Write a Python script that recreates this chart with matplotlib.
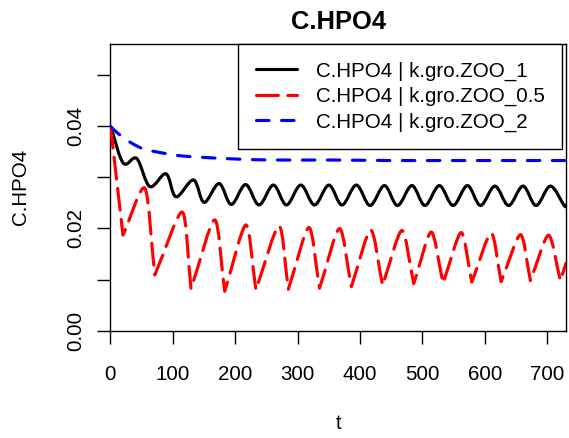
import numpy as np
import matplotlib
matplotlib.use("Agg")
import matplotlib.pyplot as plt
from matplotlib.path import Path
from matplotlib.patches import PathPatch
from matplotlib.lines import Line2D

# ---- data ----
black_t = [0, 20.5, 42, 63, 89, 105, 133, 150, 174, 193.5, 216.5, 238, 261, 282, 305,
           327, 350, 371, 394, 416, 439, 460, 483, 504, 527, 549, 572, 593, 616, 638,
           661, 682, 705, 727, 730]
black_v = [0.0400, 0.0328, 0.0337, 0.0282, 0.0307, 0.0262, 0.0295, 0.0251, 0.0288, 0.0247,
           0.0286, 0.0246, 0.0285, 0.0246, 0.0285, 0.0246, 0.0285, 0.0246, 0.0285, 0.0245,
           0.0284, 0.0245, 0.0284, 0.0245, 0.0284, 0.0245, 0.0284, 0.0245, 0.0283, 0.0245,
           0.0283, 0.0245, 0.0283, 0.0245, 0.0246]

red_t = [0, 20, 55, 71, 115, 129, 167, 183, 217, 233, 270, 285, 318, 335, 367, 386,
         417, 436, 467, 486, 514, 533, 562, 579, 610, 626, 657, 673, 702, 721, 730]
red_v = [0.0400, 0.0187, 0.0279, 0.0109, 0.0232, 0.0082, 0.0217, 0.0077, 0.0207, 0.0080,
         0.0205, 0.0081, 0.0202, 0.0083, 0.0200, 0.0086, 0.0197, 0.0089, 0.0196, 0.0092,
         0.0193, 0.0093, 0.0192, 0.0095, 0.0191, 0.0096, 0.0188, 0.0098, 0.0187, 0.0098,
         0.0132]
red_is_trough = [False] + [i % 2 == 1 for i in range(1, len(red_t) - 1)] + [True]

blue_t = [0, 12, 34, 55, 87, 114, 151, 199, 260, 350, 450, 550, 650, 730]
blue_v = [0.0400, 0.0386, 0.0367, 0.0355, 0.0347, 0.0342, 0.0339, 0.0336, 0.0334,
          0.0334, 0.0333, 0.0333, 0.0333, 0.0333]

labels = ["C.HPO4 | k.gro.ZOO_1", "C.HPO4 | k.gro.ZOO_0.5", "C.HPO4 | k.gro.ZOO_2"]
colors = ["black", "red", "blue"]
x_ticks = [0, 100, 200, 300, 400, 500, 600, 700]
y_ticks = [0.00, 0.01, 0.02, 0.03, 0.04, 0.05]
y_ticklabels = ["0.00", "", "0.02", "", "0.04", ""]

plt.rcParams['font.family'] = ['Liberation Sans', 'DejaVu Sans']

W, H = 569, 438
fig = plt.figure(figsize=(W / 100, H / 100), dpi=100)
L, R, T, B = 110.5, 566.0, 44.0, 330.7
ax = fig.add_axes([L / W, 1 - B / H, (R - L) / W, (B - T) / H])


def smooth_path(t, v, corners=None, s=1 / 6):
    p = np.column_stack([np.asarray(t, float), np.asarray(v, float)])
    n = len(p)
    if corners is None:
        corners = [False] * n
    corners = list(corners)
    corners[0] = True
    corners[-1] = True
    verts = [p[0]]
    codes = [Path.MOVETO]
    for i in range(n - 1):
        p1, p2 = p[i], p[i + 1]
        if corners[i]:
            c1 = p1 + (p2 - p1) / 3
        else:
            c1 = p1 + (p2 - p[i - 1]) * s
        if corners[i + 1]:
            c2 = p2 - (p2 - p1) / 3
        else:
            c2 = p2 - (p[i + 2] - p1) * s
        verts += [c1, c2, p2]
        codes += [Path.CURVE4] * 3
    return Path(np.array(verts), codes)


lw = 2.25
styles = [
    dict(color="black", linestyle="-"),
    dict(color="red", linestyle=(0, (7, 3))),
    dict(color="blue", linestyle=(0, (4, 4))),
]
paths = [
    smooth_path(black_t, black_v),
    smooth_path(red_t, red_v, red_is_trough, s=1 / 8),
    smooth_path(blue_t, blue_v),
]
for pth, st in zip(paths, styles):
    patch = PathPatch(pth, fill=False, edgecolor=st["color"], linewidth=lw,
                      linestyle=st["linestyle"], capstyle="round", joinstyle="round",
                      zorder=3)
    ax.add_patch(patch)

ax.set_xlim(0, 730)
ax.set_ylim(0, 0.0561)
ax.set_xticks(x_ticks)
ax.set_xticklabels([str(x) for x in x_ticks])
ax.set_yticks(y_ticks)
ax.set_yticklabels(y_ticklabels, rotation=90, va="center")
ax.tick_params(axis="both", direction="out", length=9.4, width=1.0,
               labelsize=14.8, colors="black")
ax.tick_params(axis="x", pad=15.5)
ax.tick_params(axis="y", pad=9.0)
for sp in ax.spines.values():
    sp.set_linewidth(1.0)
    sp.set_color("black")

handles = [Line2D([], [], color=st["color"], linestyle=st["linestyle"], linewidth=lw,
                  dash_capstyle="round", solid_capstyle="round") for st in styles]
leg = ax.legend(handles, labels, loc="upper right",
                bbox_to_anchor=((562 - L) / (R - L), 1.0), borderaxespad=0,
                frameon=True, fancybox=False, edgecolor="black", framealpha=1,
                fontsize=14.8, handlelength=2.03, handletextpad=0.89,
                borderpad=0.85, labelspacing=0.3)
leg.get_frame().set_linewidth(1.0)

fig.text((L + R) / 2 / W, 1 - 29 / H, "C.HPO4", ha="center", va="baseline",
         fontsize=18.4, fontweight="bold")
fig.text((L + R) / 2 / W, 1 - 429 / H, "t", ha="center", va="baseline", fontsize=14.8)
fig.text(20.6 / W, 1 - (T + B) / 2 / H, "C.HPO4", ha="center", va="center",
         rotation=90, fontsize=14.8)

fig.savefig("out.png", dpi=100)
